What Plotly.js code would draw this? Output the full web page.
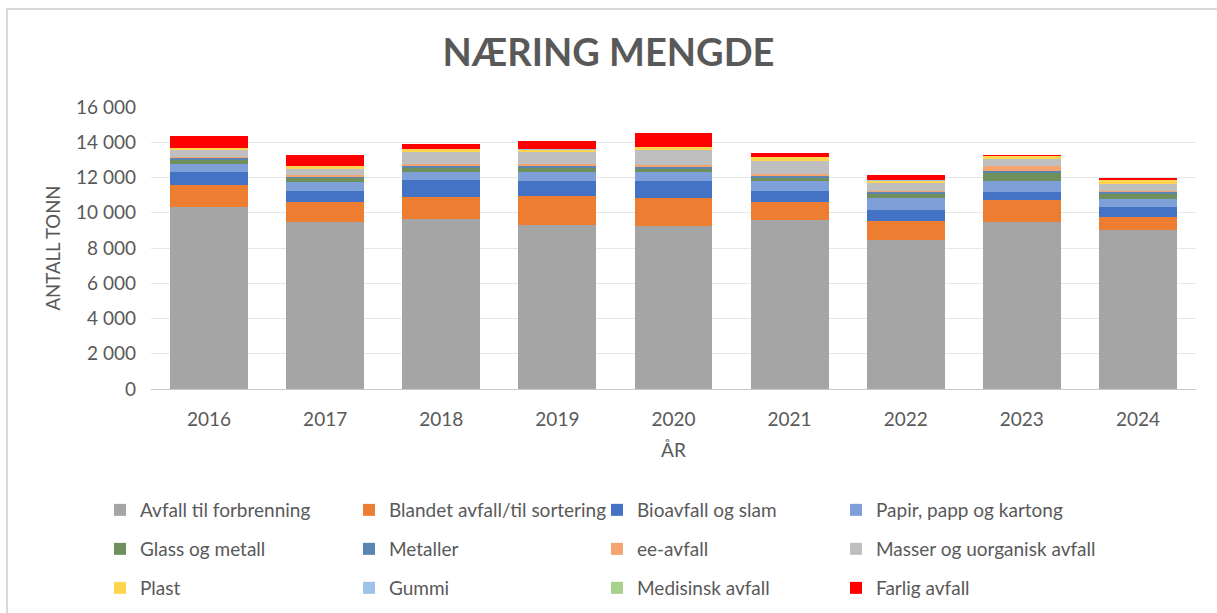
<!DOCTYPE html>
<html>
<head>
<meta charset="utf-8">
<script src="https://cdn.plot.ly/plotly-3.0.1.min.js"></script>
<style>
html,body{margin:0;padding:0;background:#fff;}
#wrap{position:relative;width:1217px;height:613px;overflow:hidden;}
#chart{width:1217px;height:613px;}
#bt{position:absolute;left:6px;top:8px;width:1211px;height:2px;background:#D9D9D9;}
#bl{position:absolute;left:6px;top:8px;width:2px;height:605px;background:#D9D9D9;}
</style>
</head>
<body>
<div id="wrap"><div id="chart"></div><div id="bt"></div><div id="bl"></div></div>
<script>
const years = ["2016","2017","2018","2019","2020","2021","2022","2023","2024"];
const seriesNames = ["Avfall til forbrenning","Blandet avfall/til sortering","Bioavfall og slam","Papir, papp og kartong","Glass og metall","Metaller","ee-avfall","Masser og uorganisk avfall","Plast","Gummi","Medisinsk avfall","Farlig avfall"];
const avfallTilForbrenning = [10340, 9460, 9645, 9305, 9265, 9570, 8455, 9460, 9005];
const blandetAvfall       = [1240, 1135, 1265, 1665, 1590, 1040, 1080, 1265, 775];
const bioavfallOgSlam     = [750, 660, 945, 850, 965, 640, 625, 455, 565];
const papirPappKartong    = [435, 475, 475, 510, 510, 570, 660, 640, 455];
const glassOgMetall       = [225, 225, 190, 190, 130, 170, 245, 455, 245];
const metaller            = [115, 90, 130, 130, 115, 115, 95, 115, 115];
const eeAvfall            = [40, 95, 115, 115, 130, 75, 95, 245, 75];
const masserUorganisk     = [410, 360, 660, 660, 830, 775, 455, 435, 380];
const plast               = [115, 140, 170, 150, 190, 210, 115, 135, 225];
const gummi               = [15, 20, 15, 30, 20, 15, 10, 15, 15];
const medisinsk           = [10, 10, 10, 10, 10, 10, 10, 10, 10];
const farligAvfall        = [680, 625, 300, 435, 795, 210, 300, 75, 95];

const seriesValues = [avfallTilForbrenning, blandetAvfall, bioavfallOgSlam, papirPappKartong, glassOgMetall, metaller, eeAvfall, masserUorganisk, plast, gummi, medisinsk, farligAvfall];
const colors = ["#A5A5A5","#ED7D31","#4472C4","#7F9FD8","#6F8F5C","#5B84B1","#F4A46F","#BFBFBF","#FFD54F","#9DC3E6","#A9D18E","#FF0000"];

const legendIds = seriesNames.map((_, i) => i === 0 ? "legend" : "legend" + (i + 1));

const traces = seriesNames.map((n, i) => ({
  type: "bar",
  name: n,
  x: years,
  y: seriesValues[i],
  legend: legendIds[i],
  marker: {color: colors[i], line: {width: 0}},
  hoverinfo: "x+y+name"
}));

const fontFam = "Lato, 'Open Sans', sans-serif";
const M = {l: 151, r: 21, t: 107, b: 224};
const W = 1217, H = 613;
const colTextX = [140, 389, 637, 876];
const rowY = [510, 549, 588];

const layout = {
  width: W, height: H,
  barmode: "stack",
  bargap: 0.33,
  separators: ", ",
  paper_bgcolor: "rgba(0,0,0,0)",
  plot_bgcolor: "rgba(0,0,0,0)",
  font: {family: fontFam, color: "#595959", size: 16},
  margin: M,
  title: {text: "<b>NÆRING MENGDE</b>", font: {family: fontFam, size: 38, color: "#595959"}, x: 0.5, xanchor: "center", y: 1 - 53 / H, yanchor: "middle"},
  xaxis: {
    title: {text: "ÅR", font: {size: 19, color: "#595959"}, standoff: 14},
    tickfont: {size: 19, color: "#595959"},
    ticklabelstandoff: 13,
    automargin: false,
    showgrid: false, zeroline: false,
    showline: true, linecolor: "#C8C8C8", linewidth: 1,
    ticks: ""
  },
  yaxis: {
    title: {text: "ANTALL TONN", font: {size: 18.5, color: "#595959"}, standoff: 10},
    range: [0, 16000], dtick: 2000, tickformat: ",d",
    tickfont: {size: 19, color: "#595959"},
    automargin: false,
    gridcolor: "#E6E6E6", gridwidth: 1, zeroline: false,
    showline: false, ticks: "", ticklabelstandoff: 14
  },
  showlegend: true
};

legendIds.forEach((id, i) => {
  const col = i % 4, row = Math.floor(i / 4);
  layout[id] = {
    orientation: "h",
    xref: "container", yref: "container",
    x: (colTextX[col] - 40) / W, xanchor: "left",
    y: 1 - rowY[row] / H, yanchor: "middle",
    bgcolor: "rgba(0,0,0,0)",
    font: {size: 19, color: "#595959", family: fontFam},
    itemwidth: 30
  };
});

Plotly.newPlot("chart", traces, layout, {displayModeBar: false, staticPlot: true});
</script>
</body>
</html>
